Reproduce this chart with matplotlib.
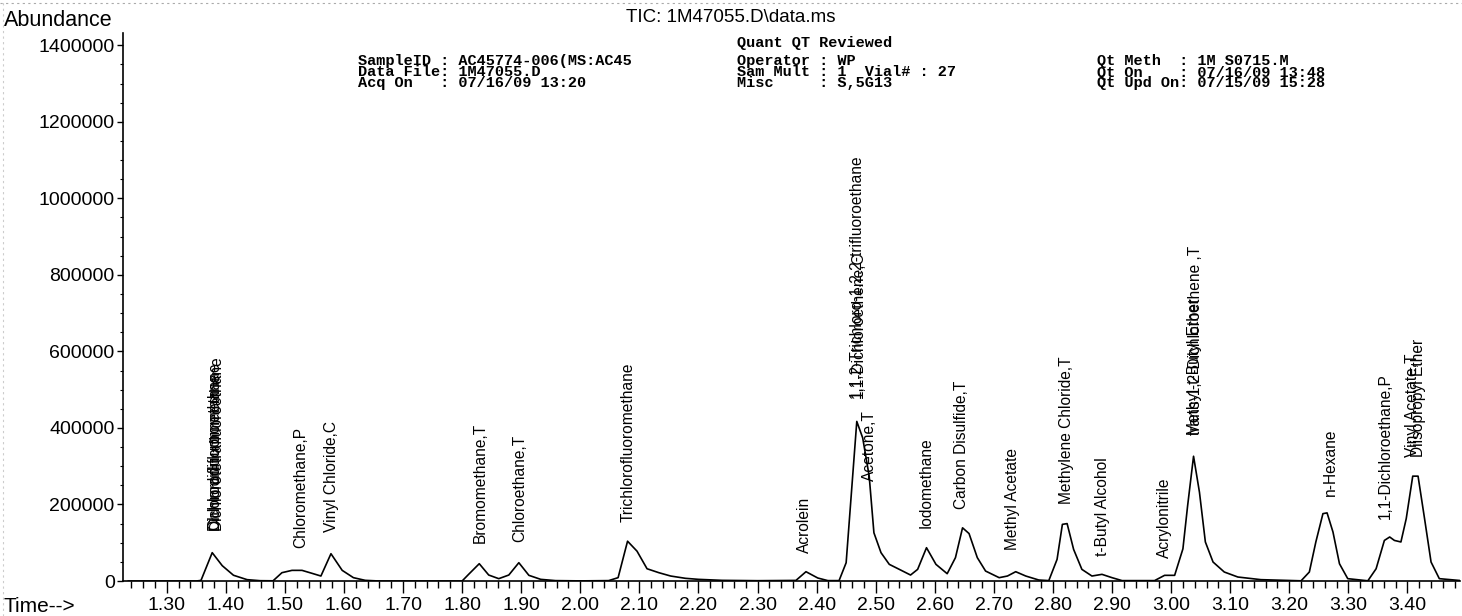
import numpy as np
import matplotlib
matplotlib.use("Agg")
import matplotlib.pyplot as plt
from matplotlib.ticker import MultipleLocator, FormatStrFormatter
from matplotlib.lines import Line2D

plt.rcParams['font.family'] = ['Liberation Sans', 'DejaVu Sans']

# TIC trace (time in min, abundance)
time = [1.235, 1.300, 1.350, 1.358, 1.377, 1.394, 1.413, 1.436, 1.458, 1.480,
        1.495, 1.512, 1.529, 1.546, 1.561, 1.578, 1.597, 1.616, 1.636, 1.660,
        1.800, 1.811, 1.829, 1.845, 1.862, 1.879, 1.896, 1.913, 1.933, 1.958,
        2.000, 2.048, 2.064, 2.080, 2.096, 2.113, 2.133, 2.153, 2.178, 2.200,
        2.240, 2.300, 2.365, 2.382, 2.402, 2.419, 2.438, 2.450, 2.468, 2.478,
        2.489, 2.497, 2.509, 2.523, 2.540, 2.559, 2.571, 2.586, 2.602, 2.621,
        2.635, 2.647, 2.658, 2.672, 2.686, 2.709, 2.723, 2.737, 2.754, 2.776,
        2.793, 2.807, 2.816, 2.824, 2.835, 2.849, 2.866, 2.883, 2.900, 2.917,
        2.972, 2.989, 3.006, 3.020, 3.028, 3.038, 3.048, 3.058, 3.071, 3.090,
        3.113, 3.152, 3.220, 3.234, 3.245, 3.257, 3.264, 3.274, 3.285, 3.299,
        3.333, 3.347, 3.361, 3.370, 3.378, 3.389, 3.398, 3.409, 3.418, 3.429,
        3.440, 3.454, 3.491]
abundance = [0, 0, 0, 1500, 74000, 40000, 15000, 3500, 800, 500,
             21700, 27800, 27800, 20000, 13000, 71300, 27800, 8700, 1700, 0,
             0, 17400, 45200, 15600, 6100, 15600, 47800, 14800, 4300, 1000,
             300, 1000, 8700, 104000, 78000, 32000, 21700, 13000, 7000, 4300,
             1700, 800, 1500, 24300, 7800, 1000, 1000, 47800, 417000, 374000,
             274000, 126000, 74000, 43500, 30400, 15600, 30400, 87000, 43500, 19100,
             61000, 139000, 124000, 61000, 26000, 8700, 13000, 24300, 13000, 2600,
             1000, 56500, 148000, 150000, 82600, 30400, 13000, 17400, 8700, 1000,
             1000, 14800, 14800, 84000, 197000, 326000, 232000, 102000, 49600, 23500,
             10400, 3500, 500, 23500, 102000, 176000, 178000, 128000, 45000, 6100,
             500, 32000, 106000, 115000, 106000, 102000, 163000, 274000, 274000, 163000,
             49600, 6100, 1000]

# compound labels: name, retention time, reported peak height
compounds = ["Dichlorodifluoromethane", "Chlorodifluoromethane", "Dichlorotetrafluoroethane",
             "Chloromethane,P", "Vinyl Chloride,C", "Bromomethane,T", "Chloroethane,T",
             "Trichlorofluoromethane", "Acrolein", "1,1,2-Trichloro-1,2,2-trifluoroethane",
             "1,1-Dichloroethene,C", "Acetone,T", "Iodomethane", "Carbon Disulfide,T",
             "Methyl Acetate", "Methylene Chloride,T", "t-Butyl Alcohol", "Acrylonitrile",
             "Methyl-t-Butyl Ether", "trans-1,2-Dichloroethene ,T", "n-Hexane",
             "1,1-Dichloroethane,P", "Vinyl Acetate,T", "Diisopropyl Ether"]
comp_rt = [1.381, 1.382, 1.383, 1.527, 1.579, 1.830, 1.898, 2.081, 2.380, 2.468,
           2.470, 2.489, 2.586, 2.645, 2.732, 2.823, 2.884, 2.989, 3.039, 3.041,
           3.269, 3.362, 3.408, 3.418]
comp_height = [76000, 76000, 76000, 29000, 71000, 44000, 46000, 99000, 18000, 421000,
               421000, 206000, 81000, 133000, 23500, 146000, 10000, 5000, 324000, 324000,
               167000, 107000, 267000, 267000]

ytick_vals = [0, 200000, 400000, 600000, 800000, 1000000, 1200000, 1400000]

W, H = 1462, 616
fig = plt.figure(figsize=(W / 100, H / 100), dpi=100)
ax = fig.add_axes([123 / W, 35 / H, (1460 - 123) / W, (581 - 33) / H])

ax.plot(time, abundance, color='black', lw=1.2)

for name, rt, h in zip(compounds, comp_rt, comp_height):
    ax.annotate(name, xy=(rt, h), xytext=(0, 15.5), textcoords='offset points',
                rotation=90, ha='center', va='bottom', fontsize=11.2)

ax.set_xlim(1.226, 3.489)
ax.set_ylim(0, 1432000)
ax.spines['top'].set_visible(False)
ax.spines['right'].set_visible(False)
ax.xaxis.set_major_locator(MultipleLocator(0.1))
ax.xaxis.set_minor_locator(MultipleLocator(0.02))
ax.xaxis.set_major_formatter(FormatStrFormatter('%.2f'))
ax.set_yticks(ytick_vals)
ax.set_yticklabels([str(v) for v in ytick_vals])
ax.yaxis.set_minor_locator(MultipleLocator(50000))
ax.tick_params(axis='x', which='major', length=8.5, width=1, pad=3, labelsize=14)
ax.tick_params(axis='x', which='minor', length=5, width=1)
ax.tick_params(axis='y', which='major', length=4, width=1, pad=2, labelsize=14)
ax.tick_params(axis='y', which='minor', length=2, width=0.8)
for s in ['left', 'bottom']:
    ax.spines[s].set_linewidth(1.2)

def px(x, y):
    return x / W, 1 - y / H

fig.text(*px(4, 20), "Abundance", fontsize=15.5, va='center', ha='left')
fig.text(*px(4, 606), "Time-->", fontsize=15, va='center', ha='left')
fig.text(*px(731, 18), "TIC: 1M47055.D\\data.ms", fontsize=13.5, va='center', ha='center')

mono = dict(family='Liberation Mono', weight='bold', fontsize=11, va='center', ha='left')
fig.text(*px(737, 43), "Quant QT Reviewed", **mono)
col1 = ["SampleID : AC45774-006(MS:AC45", "Data File: 1M47055.D", "Acq On   : 07/16/09 13:20"]
col2 = ["Operator : WP", "Sam Mult : 1  Vial# : 27", "Misc     : S,5G13"]
col3 = ["Qt Meth  : 1M S0715.M", "Qt On    : 07/16/09 13:48", "Qt Upd On: 07/15/09 15:28"]
for i, yy in enumerate([61.5, 72.5, 83.5]):
    fig.text(*px(358, yy), col1[i], **mono)
    fig.text(*px(737, yy), col2[i], **mono)
    fig.text(*px(1097, yy), col3[i], **mono)

# faint dotted scan border
fig.add_artist(Line2D([0, 1], [1 - 3 / H, 1 - 3 / H], color='#aaaaaa', lw=0.8, ls=(0, (2, 3))))
fig.add_artist(Line2D([3 / W, 3 / W], [0, 1], color='#cccccc', lw=0.8, ls=(0, (2, 3))))

fig.savefig("out.png", dpi=100)
